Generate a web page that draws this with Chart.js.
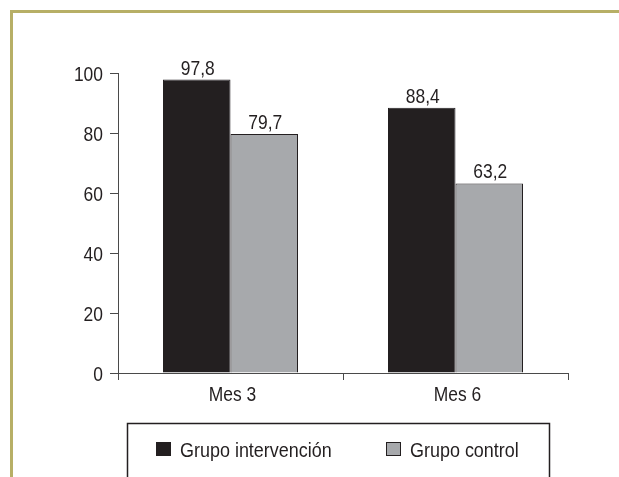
<!DOCTYPE html>
<html>
<head>
<meta charset="utf-8">
<script src="https://cdn.jsdelivr.net/npm/chart.js@4"></script>
<style>
    html, body { margin: 0; padding: 0; background: #ffffff; }
    #chart { display: block; }
</style>
</head>
<body>
<canvas id="chart" width="619" height="477"></canvas>
<script>
// Chart values
const months = ['Mes 3', 'Mes 6'];
const seriesNames = ['Grupo intervención', 'Grupo control'];
const intervencion = [97.8, 88.4];
const control = [79.7, 63.2];
const yTicks = [0, 20, 40, 60, 80, 100];

const FONT = "'Liberation Sans', Arial, sans-serif";
const INK = '#231f20';
const AXIS = '#4a4a4a';
const SQUEEZE = 0.83; // no condensed face installed, so narrow the glyphs by hand

function narrowText(ctx, txt, x, y, align, squeeze) {
    ctx.save();
    ctx.translate(x, y);
    ctx.scale(squeeze || SQUEEZE, 1);
    ctx.textAlign = align;
    ctx.textBaseline = 'alphabetic';
    ctx.fillText(txt, 0, 0);
    ctx.restore();
}

// Olive frame on the top and left edges
const framePlugin = {
    id: 'frame',
    beforeDraw(chart) {
        const ctx = chart.ctx;
        ctx.save();
        ctx.fillStyle = '#b7af66';
        ctx.fillRect(10, 10, chart.width - 10, 3);
        ctx.fillRect(10, 10, 3, chart.height - 10);
        ctx.restore();
    }
};

// Axis labels, drawn at the library's scale positions
const axisLabels = {
    id: 'axisLabels',
    afterDraw(chart) {
        const ctx = chart.ctx;
        const xs = chart.scales.x;
        const ys = chart.scales.y;
        ctx.save();
        ctx.font = `21px ${FONT}`;
        ctx.fillStyle = INK;
        yTicks.forEach(v => {
            narrowText(ctx, String(v), ys.left + ys.width - 15, ys.getPixelForValue(v) + 7.5, 'right');
        });
        months.forEach((m, i) => {
            narrowText(ctx, m, xs.getPixelForValue(i) + 2, xs.top + 28, 'center');
        });
        ctx.restore();
    }
};

// Value labels above each bar, with decimal comma
const valueLabels = {
    id: 'valueLabels',
    afterDatasetsDraw(chart) {
        const ctx = chart.ctx;
        ctx.save();
        ctx.font = `21px ${FONT}`;
        ctx.fillStyle = INK;
        chart.data.datasets.forEach((ds, i) => {
            chart.getDatasetMeta(i).data.forEach((bar, j) => {
                const txt = ds.data[j].toFixed(1).replace('.', ',');
                narrowText(ctx, txt, bar.x + 1, bar.y - 5, 'center');
            });
        });
        ctx.restore();
    }
};

// Boxed legend under the x axis
const boxLegend = {
    id: 'boxLegend',
    afterDraw(chart) {
        const ctx = chart.ctx;
        ctx.save();
        ctx.strokeStyle = INK;
        ctx.lineWidth = 1.5;
        ctx.beginPath();
        ctx.moveTo(127.5, chart.height + 2);
        ctx.lineTo(127.5, 423.5);
        ctx.lineTo(549.5, 423.5);
        ctx.lineTo(549.5, chart.height + 2);
        ctx.stroke();

        const xs = [156, 386];
        ctx.font = `21px ${FONT}`;
        chart.data.datasets.forEach((ds, i) => {
            ctx.fillStyle = ds.backgroundColor;
            ctx.fillRect(xs[i], 442, 15, 14);
            ctx.lineWidth = 1;
            ctx.strokeStyle = INK;
            ctx.strokeRect(xs[i] + 0.5, 442.5, 14, 13);
            ctx.fillStyle = INK;
            narrowText(ctx, ds.label, xs[i] + 24, 457, 'left', 0.855);
        });
        ctx.restore();
    }
};

new Chart(document.getElementById('chart'), {
    type: 'bar',
    data: {
        labels: months,
        datasets: [
            {
                label: seriesNames[0],
                data: intervencion,
                backgroundColor: '#231f20',
                borderColor: INK,
                borderWidth: 1
            },
            {
                label: seriesNames[1],
                data: control,
                backgroundColor: '#a7a9ac',
                borderColor: INK,
                borderWidth: 1
            }
        ]
    },
    options: {
        responsive: false,
        animation: false,
        devicePixelRatio: 1,
        layout: { padding: { left: 40, top: 73, right: 51, bottom: 0 } },
        plugins: {
            legend: { display: false },
            tooltip: { enabled: false }
        },
        datasets: {
            bar: { categoryPercentage: 0.6, barPercentage: 1 }
        },
        scales: {
            x: {
                grid: {
                    offset: true,
                    drawOnChartArea: false,
                    tickLength: 7,
                    color: AXIS
                },
                border: { color: AXIS, width: 1 },
                ticks: { display: false },
                afterFit(scale) { scale.height = 104; }
            },
            y: {
                min: 0,
                max: 100,
                afterBuildTicks(scale) {
                    scale.ticks = yTicks.map(v => ({ value: v }));
                },
                grid: {
                    drawOnChartArea: false,
                    tickLength: 8,
                    color: AXIS
                },
                border: { color: AXIS, width: 1 },
                ticks: { display: false },
                afterFit(scale) { scale.width = 78; }
            }
        }
    },
    plugins: [framePlugin, axisLabels, valueLabels, boxLegend]
});
</script>
</body>
</html>
